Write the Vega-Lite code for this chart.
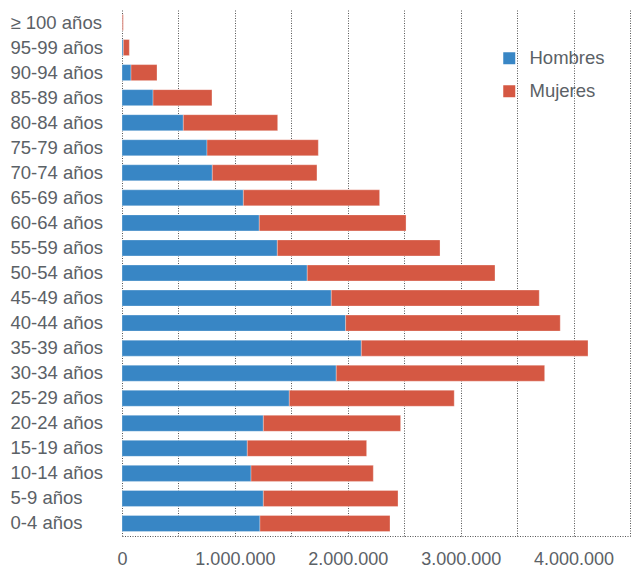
{
  "$schema": "https://vega.github.io/schema/vega-lite/v6.json",
  "width": 508,
  "height": 526,
  "autosize": {"type": "none"},
  "padding": {"left": 122, "top": 10, "right": 1, "bottom": 32},
  "background": "#ffffff",
  "data": {
    "values": [
      {"edad": "≥ 100 años", "sexo": "Hombres", "poblacion": 2500},
      {"edad": "≥ 100 años", "sexo": "Mujeres", "poblacion": 9000},
      {"edad": "95-99 años", "sexo": "Hombres", "poblacion": 12000},
      {"edad": "95-99 años", "sexo": "Mujeres", "poblacion": 53000},
      {"edad": "90-94 años", "sexo": "Hombres", "poblacion": 80000},
      {"edad": "90-94 años", "sexo": "Mujeres", "poblacion": 230000},
      {"edad": "85-89 años", "sexo": "Hombres", "poblacion": 275000},
      {"edad": "85-89 años", "sexo": "Mujeres", "poblacion": 522000},
      {"edad": "80-84 años", "sexo": "Hombres", "poblacion": 543000},
      {"edad": "80-84 años", "sexo": "Mujeres", "poblacion": 836000},
      {"edad": "75-79 años", "sexo": "Hombres", "poblacion": 753000},
      {"edad": "75-79 años", "sexo": "Mujeres", "poblacion": 986000},
      {"edad": "70-74 años", "sexo": "Hombres", "poblacion": 800000},
      {"edad": "70-74 años", "sexo": "Mujeres", "poblacion": 927000},
      {"edad": "65-69 años", "sexo": "Hombres", "poblacion": 1075000},
      {"edad": "65-69 años", "sexo": "Mujeres", "poblacion": 1207000},
      {"edad": "60-64 años", "sexo": "Hombres", "poblacion": 1216000},
      {"edad": "60-64 años", "sexo": "Mujeres", "poblacion": 1300000},
      {"edad": "55-59 años", "sexo": "Hombres", "poblacion": 1376000},
      {"edad": "55-59 años", "sexo": "Mujeres", "poblacion": 1441000},
      {"edad": "50-54 años", "sexo": "Hombres", "poblacion": 1641000},
      {"edad": "50-54 años", "sexo": "Mujeres", "poblacion": 1663000},
      {"edad": "45-49 años", "sexo": "Hombres", "poblacion": 1854000},
      {"edad": "45-49 años", "sexo": "Mujeres", "poblacion": 1842000},
      {"edad": "40-44 años", "sexo": "Hombres", "poblacion": 1981000},
      {"edad": "40-44 años", "sexo": "Mujeres", "poblacion": 1901000},
      {"edad": "35-39 años", "sexo": "Hombres", "poblacion": 2120000},
      {"edad": "35-39 años", "sexo": "Mujeres", "poblacion": 2008000},
      {"edad": "30-34 años", "sexo": "Hombres", "poblacion": 1898000},
      {"edad": "30-34 años", "sexo": "Mujeres", "poblacion": 1846000},
      {"edad": "25-29 años", "sexo": "Hombres", "poblacion": 1482000},
      {"edad": "25-29 años", "sexo": "Mujeres", "poblacion": 1461000},
      {"edad": "20-24 años", "sexo": "Hombres", "poblacion": 1252000},
      {"edad": "20-24 años", "sexo": "Mujeres", "poblacion": 1216000},
      {"edad": "15-19 años", "sexo": "Hombres", "poblacion": 1110000},
      {"edad": "15-19 años", "sexo": "Mujeres", "poblacion": 1057000},
      {"edad": "10-14 años", "sexo": "Hombres", "poblacion": 1143000},
      {"edad": "10-14 años", "sexo": "Mujeres", "poblacion": 1083000},
      {"edad": "5-9 años", "sexo": "Hombres", "poblacion": 1252000},
      {"edad": "5-9 años", "sexo": "Mujeres", "poblacion": 1193000},
      {"edad": "0-4 años", "sexo": "Hombres", "poblacion": 1222000},
      {"edad": "0-4 años", "sexo": "Mujeres", "poblacion": 1152000}
    ]
  },
  "mark": {"type": "bar", "stroke": "#ffffff", "strokeWidth": 0.5, "strokeOpacity": 0.6},
  "encoding": {
    "y": {
      "field": "edad",
      "type": "nominal",
      "sort": ["≥ 100 años", "95-99 años", "90-94 años", "85-89 años", "80-84 años", "75-79 años", "70-74 años", "65-69 años", "60-64 años", "55-59 años", "50-54 años", "45-49 años", "40-44 años", "35-39 años", "30-34 años", "25-29 años", "20-24 años", "15-19 años", "10-14 años", "5-9 años", "0-4 años"],
      "scale": {"paddingInner": 0.36, "paddingOuter": 0.18},
      "axis": {
        "title": null,
        "ticks": false,
        "domain": false,
        "labelAlign": "left",
        "labelPadding": 112,
        "labelFontSize": 18.5,
        "labelColor": "#5b6166"
      }
    },
    "x": {
      "field": "poblacion",
      "type": "quantitative",
      "stack": "zero",
      "scale": {"domain": [0, 4500000], "nice": false},
      "axis": {
        "title": null,
        "values": [0, 500000, 1000000, 1500000, 2000000, 2500000, 3000000, 3500000, 4000000, 4500000],
        "labelExpr": "datum.value % 1000000 == 0 ? replace(format(datum.value, ','), regexp(',', 'g'), '.') : ''",
        "ticks": false,
        "labelPadding": 14,
        "labelFontSize": 18,
        "labelColor": "#5b6166",
        "labelFlush": false,
        "domain": true,
        "domainColor": "#555555",
        "domainDash": [1, 1.5],
        "grid": true,
        "gridColor": "#555555",
        "gridDash": [1, 1.5],
        "gridWidth": 1
      }
    },
    "color": {
      "field": "sexo",
      "type": "nominal",
      "scale": {"domain": ["Hombres", "Mujeres"], "range": ["#3886c5", "#d55843"]},
      "legend": {
        "title": null,
        "orient": "none",
        "legendX": 378,
        "legendY": 39,
        "symbolType": "square",
        "symbolSize": 144,
        "symbolStrokeWidth": 0,
        "labelFontSize": 18.5,
        "labelColor": "#5b6166",
        "labelOffset": 11,
        "rowPadding": 14,
        "padding": 0
      }
    },
    "order": {"field": "sexo", "sort": "ascending"}
  },
  "config": {
    "font": "Liberation Sans",
    "view": {"stroke": null}
  }
}
